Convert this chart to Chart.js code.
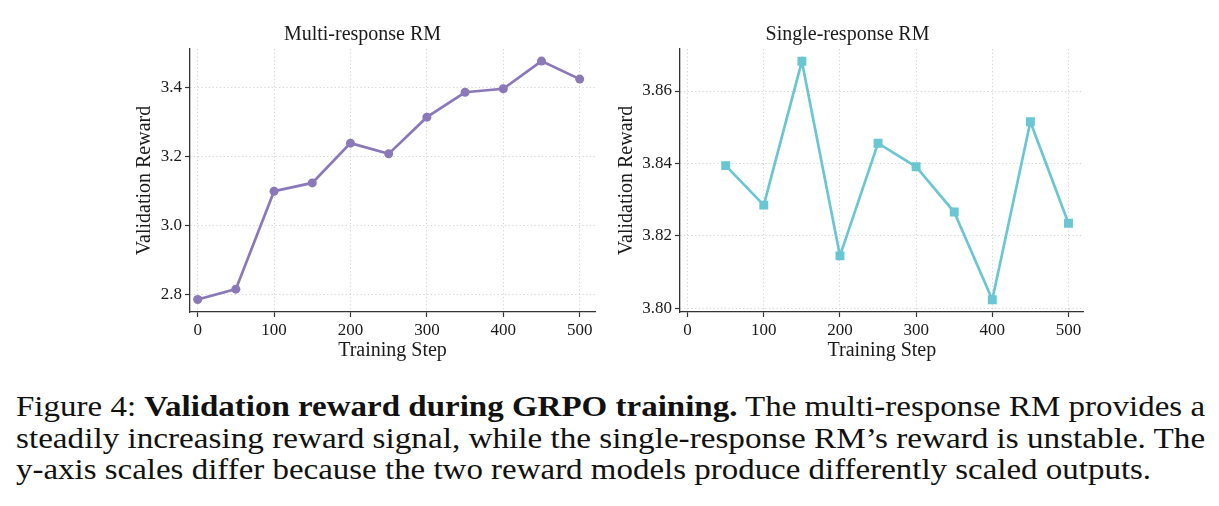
<!DOCTYPE html>
<html>
<head>
<meta charset="utf-8">
<script src="https://cdn.jsdelivr.net/npm/chart.js@4.4.1/dist/chart.umd.min.js"></script>
<style>
    body { margin: 0; background: #fff; width: 1219px; height: 506px; overflow: hidden; position: relative; }
    .painel { position: absolute; top: 20px; height: 350px; }
    #painel-multi { left: 130px; width: 470px; }
    #painel-single { left: 610px; width: 480px; }
    .legenda { position: absolute; left: 16px; white-space: nowrap; font-family: "Liberation Serif", serif; font-size: 29px; line-height: 29px; color: #111; transform-origin: 0 50%; }
</style>
</head>
<body>
<div class="painel" id="painel-multi"><canvas id="grafico-multi"></canvas></div>
<div class="painel" id="painel-single"><canvas id="grafico-single"></canvas></div>

<div class="legenda" id="linha-1" data-largura="1189" style="top:392px">Figure 4: <b>Validation reward during GRPO training.</b> The multi-response RM provides a</div>
<div class="legenda" id="linha-2" data-largura="1189" style="top:424px">steadily increasing reward signal, while the single-response RM’s reward is unstable. The</div>
<div class="legenda" id="linha-3" data-largura="1135" style="top:455px">y-axis scales differ because the two reward models produce differently scaled outputs.</div>

<script>
// dados
const passosMulti = [0, 50, 100, 150, 200, 250, 300, 350, 400, 450, 500]
const recompensaMulti = [2.786, 2.816, 3.099, 3.123, 3.238, 3.207, 3.313, 3.385, 3.395, 3.475, 3.423]

const passosSingle = [50, 100, 150, 200, 250, 300, 350, 400, 450, 500]
const recompensaSingle = [3.8394, 3.8285, 3.8682, 3.8145, 3.8456, 3.8391, 3.8266, 3.8024, 3.8515, 3.8235]

const ticksX = [0, 100, 200, 300, 400, 500]
const ticksYMulti = [2.8, 3.0, 3.2, 3.4]
const ticksYSingle = [3.80, 3.82, 3.84, 3.86]

const fonte = '"Liberation Serif", serif'
const corTexto = '#1a1a1a'
const corGrade = '#d4d4d4'

function montarGrafico(canvas, titulo, passos, valores, cor, ponto, raio, yMin, yMax, ticksY, casas, largY, padY) {
    return new Chart(canvas, {
        type: 'line',
        data: {
            datasets: [{
                data: passos.map((p, i) => ({ x: p, y: valores[i] })),
                borderColor: cor,
                backgroundColor: cor,
                borderWidth: 2.7,
                pointStyle: ponto,
                pointRadius: raio,
                pointBorderWidth: 0,
                tension: 0
            }]
        },
        options: {
            animation: false,
            responsive: true,
            maintainAspectRatio: false,
            layout: { padding: { right: 5, bottom: 3, left: 0, top: 0 } },
            plugins: {
                legend: { display: false },
                tooltip: { enabled: false },
                title: {
                    display: true,
                    text: titulo,
                    color: corTexto,
                    font: { family: fonte, size: 20, weight: 'normal' },
                    padding: { top: 2.5, bottom: 2.5 }
                }
            },
            scales: {
                x: {
                    type: 'linear',
                    min: -10,
                    max: 520,
                    afterBuildTicks: s => { s.ticks = ticksX.map(v => ({ value: v })) },
                    afterFit: s => { s.height = 55 },
                    ticks: { color: corTexto, font: { family: fonte, size: 17 }, padding: 3, maxRotation: 0 },
                    grid: { color: corGrade, lineWidth: 1, tickColor: '#333', tickLength: 5, tickWidth: 1.2, tickBorderDash: [] },
                    border: { color: '#333', width: 1.3, dash: [1.2, 2.5] },
                    title: { display: true, text: 'Training Step', color: corTexto, font: { family: fonte, size: 20 }, padding: { top: 4, bottom: 4 } }
                },
                y: {
                    min: yMin,
                    max: yMax,
                    afterBuildTicks: s => { s.ticks = ticksY.map(v => ({ value: v })) },
                    afterFit: s => { s.width = largY },
                    ticks: { color: corTexto, font: { family: fonte, size: 17 }, padding: 3, callback: v => v.toFixed(casas) },
                    grid: { color: corGrade, lineWidth: 1, tickColor: '#333', tickLength: 5, tickWidth: 1.2, tickBorderDash: [] },
                    border: { color: '#333', width: 1.3, dash: [1.2, 2.5] },
                    title: { display: true, text: 'Validation Reward', color: corTexto, font: { family: fonte, size: 20 }, padding: { top: padY, bottom: padY } }
                }
            }
        }
    })
}

montarGrafico(document.getElementById('grafico-multi'), 'Multi-response RM',
    passosMulti, recompensaMulti, '#8a78b8', 'circle', 4.5, 2.75, 3.51, ticksYMulti, 1, 60, 3)

montarGrafico(document.getElementById('grafico-single'), 'Single-response RM',
    passosSingle, recompensaSingle, '#6ac6d2', 'rect', 6.3, 3.799, 3.8716, ticksYSingle, 2, 70, 5)

// ajusta a largura de cada linha da legenda
document.querySelectorAll('.legenda').forEach(linha => {
    const alvo = Number(linha.dataset.largura)
    const atual = linha.scrollWidth
    linha.style.transform = `scaleX(${alvo / atual})`
})
</script>
</body>
</html>
